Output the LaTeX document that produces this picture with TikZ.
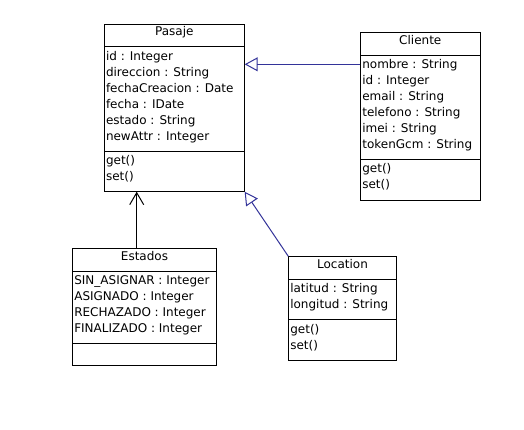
\documentclass[tikz,border=0pt]{standalone}
\usepackage{fontspec}
\setmainfont{DejaVu Sans}
\usetikzlibrary{arrows.meta}
\definecolor{umlblue}{RGB}{51,51,153}

\begin{document}
\begin{tikzpicture}[x=1pt, y=-1pt, line width=1pt,
    umlbox/.style={draw, inner sep=0pt, outer sep=0pt, anchor=north west},
    umltitle/.style={anchor=base, inner sep=0pt, font=\fontsize{12}{16}\selectfont},
    umlattr/.style={anchor=base west, inner sep=0pt, font=\fontsize{12}{16}\selectfont},
    gen/.style={draw=umlblue, -{Triangle[open, length=13pt, width=14pt]}},
    assoc/.style={-{Straight Barb[length=12pt, width=14pt]}}]
  \useasboundingbox (0,0) rectangle (524,429);

% Pasaje
\node[umlbox, minimum width=140.7pt, minimum height=167.7pt] (pasaje) at (104,24) {};
\draw (pasaje.west |- 0,46.7) -- (pasaje.east |- 0,46.7);
\draw (pasaje.west |- 0,151) -- (pasaje.east |- 0,151);
\node[umltitle] (pasaje-t) at (pasaje.north |- 0,35.7) {Pasaje};
\foreach \a [count=\i] in {id : Integer, direccion : String, fechaCreacion : Date,
    fecha : IDate, estado : String, newAttr : Integer}
  \node[umlattr] (pasaje-a\i) at (105.5,44+16*\i) {\a};
\node[umlattr] (pasaje-m1) at (105.5,164.5) {get()};
\node[umlattr] (pasaje-m2) at (105.5,180.5) {set()};

% Cliente
\node[umlbox, minimum width=120pt, minimum height=167.7pt] (cliente) at (360.3,32.3) {};
\draw (cliente.west |- 0,55) -- (cliente.east |- 0,55);
\draw (cliente.west |- 0,159.3) -- (cliente.east |- 0,159.3);
\node[umltitle] (cliente-t) at (cliente.north |- 0,44) {Cliente};
\foreach \a [count=\i] in {nombre : String, id : Integer, email : String,
    telefono : String, imei : String, tokenGcm : String}
  \node[umlattr] (cliente-a\i) at (361.8,52.3+16*\i) {\a};
\node[umlattr] (cliente-m1) at (361.8,172.8) {get()};
\node[umlattr] (cliente-m2) at (361.8,188.8) {set()};

% Estados
\node[umlbox, minimum width=144.4pt, minimum height=116.7pt] (estados) at (72.3,248.3) {};
\draw (estados.west |- 0,271) -- (estados.east |- 0,271);
\draw (estados.west |- 0,343.3) -- (estados.east |- 0,343.3);
\node[umltitle] (estados-t) at (estados.north |- 0,260) {Estados};
\foreach \a [count=\i] in {SIN\_ASIGNAR : Integer, ASIGNADO : Integer,
    RECHAZADO : Integer, FINALIZADO : Integer}
  \node[umlattr] (estados-a\i) at (73.8,268.3+16*\i) {\a};

% Location
\node[umlbox, minimum width=108.4pt, minimum height=104pt] (location) at (288.3,256.3) {};
\draw (location.west |- 0,279.3) -- (location.east |- 0,279.3);
\draw (location.west |- 0,319.7) -- (location.east |- 0,319.7);
\node[umltitle] (location-t) at (location.north |- 0,268) {Location};
\foreach \a [count=\i] in {latitud : String, longitud : String}
  \node[umlattr] (location-a\i) at (289.8,276.6+16*\i) {\a};
\node[umlattr] (location-m1) at (289.8,333.2) {get()};
\node[umlattr] (location-m2) at (289.8,349.2) {set()};

% relations
\draw[gen] (cliente.west |- 0,64.3) -- (pasaje.east |- 0,64.3);
\draw[gen] (location.north west) -- (pasaje.south east);
\draw[assoc] (136.7,0 |- estados.north) -- (136.7,0 |- pasaje.south);

\end{tikzpicture}
\end{document}
